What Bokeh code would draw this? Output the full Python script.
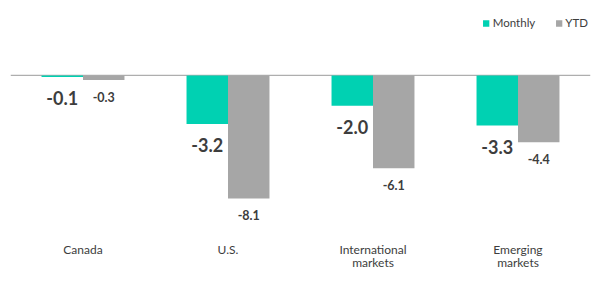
from bokeh.plotting import figure
from bokeh.models import ColumnDataSource, FactorRange, Range1d, Span, Legend, LegendItem
from bokeh.transform import dodge
from bokeh.core.properties import value
from bokeh.embed import file_html
from bokeh.resources import INLINE

categories = ["Canada", "U.S.", "International\nmarkets", "Emerging\nmarkets"]
monthly = [-0.1, -3.2, -2.0, -3.3]
ytd = [-0.3, -8.1, -6.1, -4.4]
series_names = ["Monthly", "YTD"]

TEAL = "#00D1B2"
GREY = "#A6A6A6"
TXT = "#3D3D3D"
FONT = "Lato"

src = ColumnDataSource(dict(
    cat=categories,
    monthly=monthly,
    ytd=ytd,
    monthly_lbl=[f"{v:.1f}" for v in monthly],
    ytd_lbl=[f"{v:.1f}" for v in ytd],
))

p = figure(width=600, height=286, x_range=FactorRange(factors=categories),
           y_range=Range1d(-10.53, 4.01), output_backend="svg",
           toolbar_location=None, min_border_left=10, min_border_right=10,
           min_border_top=14, min_border_bottom=51)

p.add_layout(Span(location=0, dimension="width", line_color="#AEAEAE", line_width=1.3, level="underlay"))

r1 = p.vbar(x=dodge("cat", -0.143, range=p.x_range), top="monthly", bottom=0, width=0.286,
            source=src, fill_color=TEAL, line_color=None)
r2 = p.vbar(x=dodge("cat", 0.143, range=p.x_range), top="ytd", bottom=0, width=0.286,
            source=src, fill_color=GREY, line_color=None)

p.text(x=dodge("cat", -0.143, range=p.x_range), y="monthly", text="monthly_lbl", source=src,
       text_align="center", text_baseline="middle", y_offset=21,
       text_font=value(FONT), text_font_style="bold", text_font_size="18px", text_color=TXT)
p.text(x=dodge("cat", 0.143, range=p.x_range), y="ytd", text="ytd_lbl", source=src,
       text_align="center", text_baseline="middle", y_offset=16.5,
       text_font=value(FONT), text_font_style="bold", text_font_size="12.5px", text_color=TXT)

legend = Legend(items=[LegendItem(label=series_names[0], renderers=[r1]),
                       LegendItem(label=series_names[1], renderers=[r2])],
                orientation="horizontal", location="top_right", margin=2, padding=0,
                spacing=19, glyph_width=8, glyph_height=8, label_standoff=3,
                label_height=12, label_text_font=FONT, label_text_font_size="11.5px",
                label_text_color=TXT, border_line_alpha=0, background_fill_alpha=0)
p.add_layout(legend)

p.outline_line_color = None
p.xgrid.visible = False
p.ygrid.visible = False
p.yaxis.visible = False
ax = p.xaxis[0]
ax.axis_line_color = None
ax.major_tick_line_color = None
ax.minor_tick_line_color = None
ax.major_tick_out = 0
ax.major_tick_in = 0
ax.major_label_standoff = 6
ax.major_label_text_font = FONT
ax.major_label_text_font_size = "12px"
ax.major_label_text_line_height = 0.92
ax.major_label_text_color = TXT

open("out.html", "w").write(file_html(p, INLINE))
